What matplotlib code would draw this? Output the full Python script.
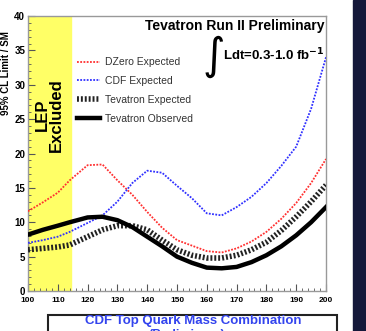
import matplotlib
matplotlib.use("Agg")
import matplotlib.pyplot as plt
from matplotlib.patches import Rectangle
from matplotlib.lines import Line2D
from matplotlib.ticker import MultipleLocator

plt.rcParams['font.family'] = ['Liberation Sans', 'DejaVu Sans']

# Higgs mass points (GeV) and 95% CL limits / SM
mass = [100, 105, 110, 114, 120, 125, 130, 135, 140, 145, 150,
        155, 160, 165, 170, 175, 180, 185, 190, 195, 200]
dzero_exp = [11.6, 12.9, 14.3, 16.1, 18.3, 18.4, 16.1, 14.0, 11.5, 9.2, 7.4,
             6.6, 5.8, 5.6, 6.2, 7.2, 8.6, 10.5, 12.8, 15.7, 19.2]
cdf_exp = [7.0, 7.4, 7.9, 8.6, 9.9, 11.0, 13.0, 15.7, 17.5, 17.2, 15.3,
           13.5, 11.3, 11.0, 12.2, 13.7, 15.7, 18.2, 21.0, 26.5, 34.0]
tev_exp = [6.0, 6.2, 6.4, 6.7, 7.9, 8.9, 9.5, 9.5, 8.9, 7.4, 6.0,
           5.2, 4.8, 4.8, 5.2, 6.0, 7.1, 8.8, 10.8, 13.0, 15.4]
tev_obs = [8.2, 8.9, 9.5, 10.0, 10.7, 10.8, 10.3, 9.3, 7.9, 6.5, 5.0,
           4.1, 3.4, 3.3, 3.5, 4.2, 5.2, 6.5, 8.1, 10.0, 12.2]
lep_limit = 114.4

W, H = 366, 331
fig = plt.figure(figsize=(W / 100, H / 100), dpi=100)
ax = fig.add_axes([28 / W, (H - 291) / H, 298 / W, 275 / H])

ax.axvspan(100, lep_limit, color='#ffff66', zorder=0)

ax.plot(mass, dzero_exp, color='#ff3030', lw=1.3, ls=(0, (1, 0.8)), zorder=3)
ax.plot(mass, cdf_exp, color='#3030ff', lw=1.3, ls=(0, (1, 0.8)), zorder=3)
ax.plot(mass, tev_exp, color='#222222', lw=4.0, ls=(0, (0.35, 0.35)), zorder=4)
ax.plot(mass, tev_obs, color='black', lw=3.2, zorder=5)

ax.set_xlim(100, 200)
ax.set_ylim(0, 40)
ax.xaxis.set_major_locator(MultipleLocator(10))
ax.xaxis.set_minor_locator(MultipleLocator(2))
ax.yaxis.set_major_locator(MultipleLocator(5))
ax.yaxis.set_minor_locator(MultipleLocator(1))
ax.tick_params(which='both', direction='in', top=False, right=False, color='#555555')
ax.tick_params(which='major', length=5, width=0.8)
ax.tick_params(which='minor', length=2.5, width=0.6)
ax.tick_params(axis='x', labelsize=6, pad=4)
ax.tick_params(axis='y', labelsize=7, pad=2)
for lab in ax.get_xticklabels() + ax.get_yticklabels():
    lab.set_fontweight('bold')
for sp in ax.spines.values():
    sp.set_color('#999999')
    sp.set_linewidth(1.0)

ax.text(107.2, 25.6, 'LEP\nExcluded', rotation=90, ha='center', va='center',
        fontsize=12, fontweight='bold', linespacing=0.9)

ax.text(0.995, 0.965, 'Tevatron Run II Preliminary', transform=ax.transAxes,
        ha='right', va='center', fontsize=10, fontweight='bold')
ax.text(0.62, 0.85, r'$\int$', transform=ax.transAxes, ha='center', va='center',
        fontsize=22)
ax.text(0.655, 0.86, r'Ldt=0.3-1.0 fb$^{\mathbf{-1}}$', transform=ax.transAxes,
        ha='left', va='center', fontsize=9.5, fontweight='bold')

handles = [
    Line2D([], [], color='#ff3030', lw=1.3, ls=(0, (1, 0.8))),
    Line2D([], [], color='#3030ff', lw=1.3, ls=(0, (1, 0.8))),
    Line2D([], [], color='#222222', lw=4.0, ls=(0, (0.35, 0.35))),
    Line2D([], [], color='black', lw=3.2),
]
labels = ['DZero Expected', 'CDF Expected', 'Tevatron Expected', 'Tevatron Observed']
leg = ax.legend(handles, labels, loc='upper left', bbox_to_anchor=(0.165, 0.85),
                frameon=False, fontsize=7.5, handlelength=2.2, handletextpad=0.5,
                labelspacing=0.85, borderpad=0, borderaxespad=0)
for t in leg.get_texts():
    t.set_color('#333333')

fig.text(6 / W, (H - 73) / H, '95% CL Limit / SM', rotation=90, ha='center',
         va='center', fontsize=7, fontweight='bold')

# dark slide border on the right and the caption box underneath
fig.patches.append(Rectangle((353 / W, 0), 1 - 353 / W, 1, transform=fig.transFigure,
                             color='#15183a', zorder=0))
fig.patches.append(Rectangle((48 / W, -0.05), (337 - 48) / W, (H - 315) / H + 0.05,
                             transform=fig.transFigure, facecolor='white',
                             edgecolor='#222222', lw=1.5, zorder=1))
fig.text(193 / W, (H - 321) / H, 'CDF Top Quark Mass Combination', ha='center',
         va='center', fontsize=9.5, fontweight='heavy', color='#3344ee', zorder=2)
fig.text(187 / W, (H - 335) / H, '(Preliminary)', ha='center', va='center',
         fontsize=9, fontweight='heavy', color='#3344ee', zorder=2)

fig.savefig('out.png', dpi=100)
